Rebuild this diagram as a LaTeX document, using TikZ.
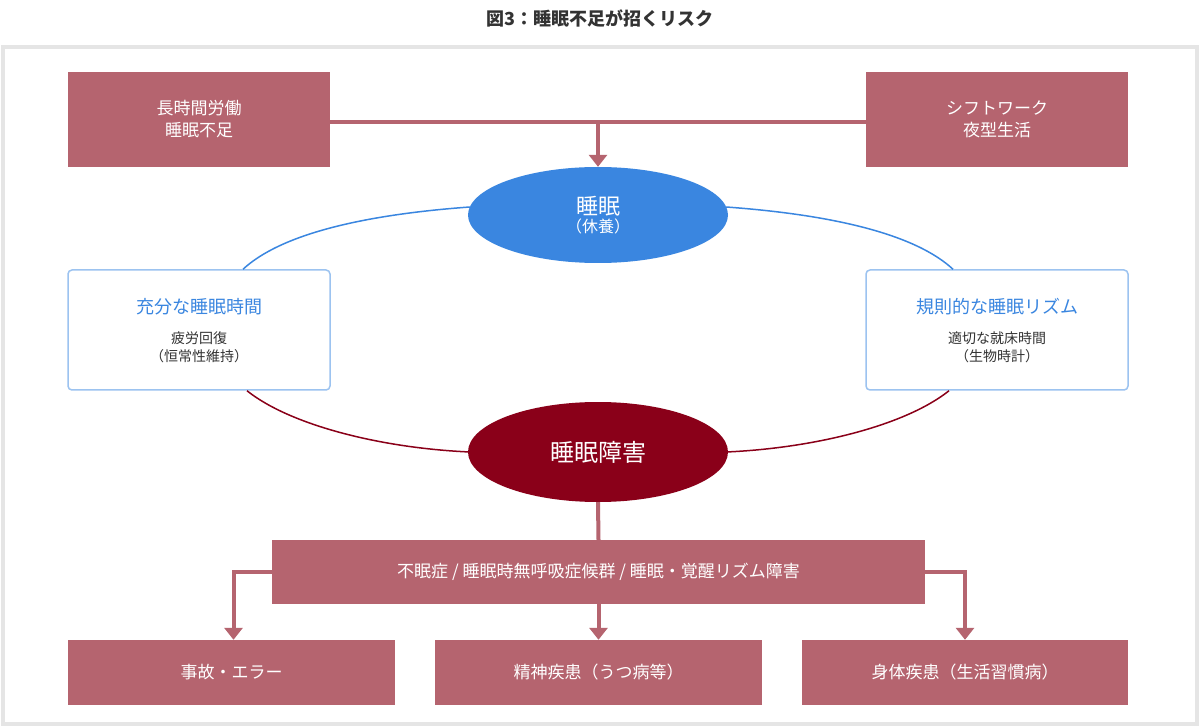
\documentclass[tikz,border=0pt]{standalone}
\usepackage{fontspec}
\setmainfont{Noto Sans CJK JP}
\usetikzlibrary{arrows.meta,shapes.geometric}
\definecolor{rose}{HTML}{B5646F}
\definecolor{dred}{HTML}{8A0019}
\definecolor{sblue}{HTML}{3A86E0}
\definecolor{lblue}{HTML}{9CC3F0}
\definecolor{tgray}{HTML}{333333}
\tikzset{
  rosebox/.style={draw=none,fill=rose,text=white,align=center,font=\fontsize{17}{22}\selectfont},
  whitebox/.style={draw=lblue,line width=1.5pt,fill=white,rounded corners=4pt,align=center},
  flow/.style={draw=rose,line width=4pt},
  arr/.style={flow,-{Triangle[length=12pt,width=18pt]}},
}
\begin{document}
\begin{tikzpicture}[x=1pt,y=-1pt]
\useasboundingbox (0,0) rectangle (1200,727);
\fill[white] (0,0) rectangle (1200,727);
\node[font=\bfseries\fontsize{18}{22}\selectfont,text=tgray] (title) at (600,18) {図3：睡眠不足が招くリスク};
\draw[draw=black!10,line width=4pt] (3,47) rectangle (1197,724);
% top boxes
\node[rosebox,minimum width=262pt,minimum height=95pt] (tl) at (199,119.5) {長時間労働\\睡眠不足};
\node[rosebox,minimum width=262pt,minimum height=95pt] (tr) at (997,119.5) {シフトワーク\\夜型生活};
% ellipses
\node[ellipse,fill=sblue,minimum width=260pt,minimum height=96pt,text=white,align=center,inner sep=0pt] (sl) at (598,215) {{\fontsize{22}{26}\selectfont 睡眠}\\[2pt]{\fontsize{16}{20}\selectfont （休養）}};
\node[ellipse,fill=dred,minimum width=260pt,minimum height=100pt,text=white,inner sep=0pt,font=\fontsize{24}{28}\selectfont] (sd) at (598,452) {睡眠障害};
\coordinate (j) at (598,122);
\draw[flow] (tl.east |- j) -- (tr.west |- j);
\draw[arr] (j) -- (sl.north);
% white boxes
\node[whitebox,minimum width=262pt,minimum height=120pt] (lb) at (199,330) {};
\node[whitebox,minimum width=262pt,minimum height=120pt] (rb) at (997,330) {};
\node[text=sblue,font=\fontsize{18}{22}\selectfont] (lb1) at (199,307) {充分な睡眠時間};
\node[text=tgray,font=\fontsize{14}{18}\selectfont,align=center] (lb2) at (199,347) {疲労回復\\（恒常性維持）};
\node[text=sblue,font=\fontsize{18}{22}\selectfont] (rb1) at (997,307) {規則的な睡眠リズム};
\node[text=tgray,font=\fontsize{14}{18}\selectfont,align=center] (rb2) at (997,347) {適切な就床時間\\（生物時計）};
% arcs
\draw[sblue,line width=1.5pt] ([shift={(2,-8)}]sl.west) .. controls (360,215) and (280,235) .. (lb.north -| 243,0);
\draw[sblue,line width=1.5pt] ([shift={(-2,-8)}]sl.east) .. controls (836,215) and (916,235) .. (rb.north -| 953,0);
\draw[dred,line width=1.5pt] (lb.south -| 247,0) .. controls (290,425) and (380,448) .. ([xshift=2pt]sd.west);
\draw[dred,line width=1.5pt] (rb.south -| 949,0) .. controls (906,425) and (816,448) .. ([xshift=-2pt]sd.east);
% middle box
\node[rosebox,minimum width=653pt,minimum height=64pt] (mid) at (598.5,572) {不眠症 / 睡眠時無呼吸症候群 / 睡眠・覚醒リズム障害};
\draw[flow] (sd.south) -- (mid.north);
% bottom boxes
\node[rosebox,minimum width=327pt,minimum height=65pt] (b1x) at (231.5,672.5) {事故・エラー};
\node[rosebox,minimum width=327pt,minimum height=65pt] (b2x) at (598.5,672.5) {精神疾患（うつ病等）};
\node[rosebox,minimum width=326pt,minimum height=65pt] (b3x) at (965,672.5) {身体疾患（生活習慣病）};
\draw[arr] (mid.west) -| ([xshift=2pt]b1x.north);
\draw[arr] (mid.south) -- (b2x.north);
\draw[arr] (mid.east) -| (b3x.north);
\end{tikzpicture}
\end{document}
